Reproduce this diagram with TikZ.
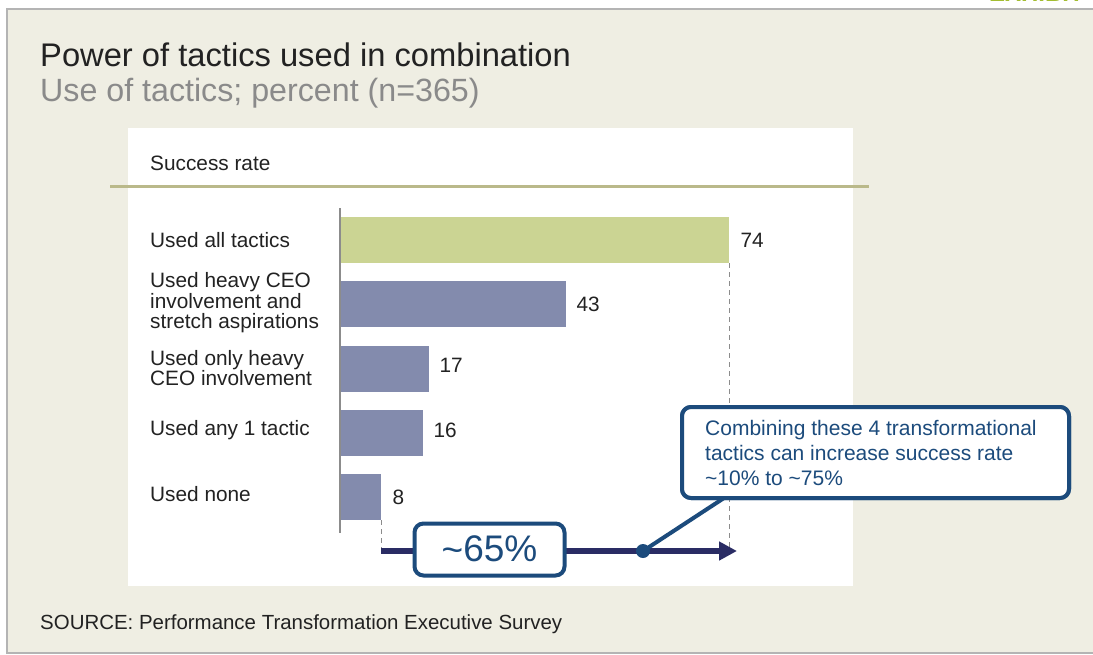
\documentclass[tikz,border=0pt]{standalone}
\usepackage{fontspec}
\setmainfont{Liberation Sans}
\usetikzlibrary{arrows.meta,calc}
\definecolor{beige}{HTML}{EFEEE3}
\definecolor{frame}{HTML}{B4B4B4}
\definecolor{olive}{HTML}{BAB98A}
\definecolor{barGreen}{HTML}{CBD493}
\definecolor{barBlue}{HTML}{838BAD}
\definecolor{axisGray}{HTML}{8C8C8C}
\definecolor{navy}{HTML}{2A2C64}
\definecolor{callBlue}{HTML}{1C4B7C}
\definecolor{txtDark}{HTML}{222222}
\definecolor{txtGray}{HTML}{8A8A8A}
\definecolor{exGreen}{HTML}{A3BD31}
\tikzset{
  lab/.style={anchor=west, inner sep=0pt, align=left, text=txtDark,
    font=\fontsize{20.8}{20.5}\selectfont},
  val/.style={anchor=west, inner sep=0pt, text=txtDark,
    font=\fontsize{20.8}{20.5}\selectfont},
  barbox/.style={anchor=west, inner sep=0pt, minimum height=46pt, draw=none},
  guide/.style={draw=axisGray, line width=1pt, dash pattern=on 5pt off 4pt},
  boxstyle/.style={draw=callBlue, line width=4pt, rounded corners=9pt, fill=white, inner sep=0pt}
}
\begin{document}
\begin{tikzpicture}[x=1pt,y=-1pt]
\useasboundingbox (0,0) rectangle (1093,654);
\fill[white] (0,0) rectangle (1093,654);
% exhibit label (cut off at the top edge, as in the reference)
\node[anchor=base east, inner sep=0pt, text=exGreen, font=\bfseries\fontsize{24}{24}\selectfont] (exh) at (1084,1.5) {EXHIBIT};
% background panel
\fill[beige] (8,10) rectangle (1093,652);
\draw[frame, line width=2.2pt] (6,9) -- (1093,9);
\draw[frame, line width=2.2pt] (7,8) -- (7,654);
\draw[frame, line width=2.2pt] (6,653) -- (1093,653);
% titles
\node[anchor=base west, inner sep=0pt, text=txtDark, font=\fontsize{32.7}{32}\selectfont] (title) at (40,66) {Power of tactics used in combination};
\node[anchor=base west, inner sep=0pt, text=txtGray, font=\fontsize{32.2}{32}\selectfont] (subtitle) at (40,101) {Use of tactics; percent (n=365)};
% chart panel
\fill[white] (128,128) rectangle (853,586);
\node[anchor=base west, inner sep=0pt, text=txtDark, font=\fontsize{20.8}{20.5}\selectfont] (succ) at (150,170) {Success rate};
\draw[olive, line width=3pt] (110,186.5) -- (869,186.5);
% bars
\node[barbox, fill=barGreen, minimum width=388pt] (b1) at (341,240) {};
\node[barbox, fill=barBlue, minimum width=225pt] (b2) at (341,304) {};
\node[barbox, fill=barBlue, minimum width=88pt] (b3) at (341,368.5) {};
\node[barbox, fill=barBlue, minimum width=82pt] (b4) at (341,432.5) {};
\node[barbox, fill=barBlue, minimum width=40pt] (b5) at (341,497) {};
% axis
\draw[axisGray, line width=2pt] (340,208) -- (340,533);
% labels
\node[lab] (l1) at (150,240) {Used all tactics};
\node[lab] (l2) at (150,303) {Used heavy CEO\\involvement and\\stretch aspirations};
\node[lab] (l3) at (150,368) {Used only heavy\\CEO involvement};
\node[lab] (l4) at (150,430) {Used any 1 tactic};
\node[lab] (l5) at (150,494) {Used none};
% values
\node[val] (v1) at ($(b1.east)+(11,0)$) {74};
\node[val] (v2) at ($(b2.east)+(10,0)$) {43};
\node[val] (v3) at ($(b3.east)+(10,-3)$) {17};
\node[val] (v4) at ($(b4.east)+(10,-2)$) {16};
\node[val] (v5) at ($(b5.east)+(11,0)$) {8};
% arrow
\coordinate (arrS) at (381,551);
\coordinate (arrE) at (737,551);
\draw[guide] (b1.south east) -- (b1.south east |- arrE);
\draw[guide] (b5.south east) -- (b5.south east |- arrS);
\draw[navy, line width=6pt, -{Triangle[length=18pt,width=18pt]}] (arrS) -- (arrE);
\node[boxstyle, minimum width=150pt, minimum height=52pt, text=callBlue, font=\fontsize{37}{37}\selectfont] (pct) at (489.5,549.5) {\raisebox{-1pt}{\textasciitilde}65\%};
% callout
\node[fill=callBlue, circle, inner sep=0pt, minimum size=14pt] (dot) at (643,551) {};
\node[boxstyle, minimum width=387pt, minimum height=91pt, anchor=north west] (call) at (680,405) {};
\draw[callBlue, line width=4pt] (dot.center) -- ($(call.south west)+(44,-2)$);
\node[boxstyle, minimum width=387pt, minimum height=91pt, anchor=north west] (call2) at (680,405) {};
\node[anchor=north west, inner sep=0pt, align=left, text=callBlue, font=\fontsize{21}{25}\selectfont] (calltext) at (705,420) {Combining these 4 transformational\\tactics can increase success rate\\\textasciitilde10\% to \textasciitilde75\%};
% source
\node[anchor=base west, inner sep=0pt, text=txtDark, font=\fontsize{20.45}{20.5}\selectfont] (src) at (40,629) {SOURCE: Performance Transformation Executive Survey};
\end{tikzpicture}
\end{document}
